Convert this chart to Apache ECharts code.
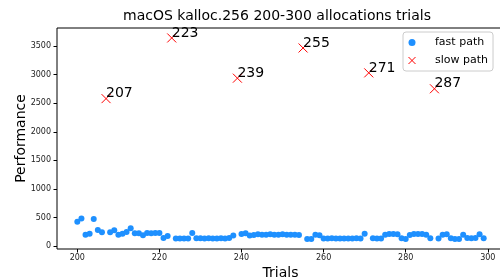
<!DOCTYPE html>
<html>
<head>
<meta charset="utf-8">
<script src="https://cdn.jsdelivr.net/npm/echarts@6/dist/echarts.min.js"></script>
<style>
  html, body { margin: 0; padding: 0; background: #fff; }
  #chart-container { width: 500px; height: 278px; }
</style>
</head>
<body>
<div id="chart-container"></div>
<script>
// trials 200..299, performance of the fast path (null where the slow path hit)
var firstTrial = 200;
var fastPerf = [
  429, 487, 203, 220, 476, 285, 244, null, 244, 278,
  203, 220, 250, 313, 226, 226, 191, 232, 226, 232,
  232, 145, 180, null, 134, 134, 134, 134, 232, 139,
  139, 134, 139, 134, 134, 139, 134, 145, 186, null,
  215, 226, 186, 197, 209, 203, 203, 209, 203, 203,
  209, 203, 203, 203, 197, null, 128, 128, 203, 191,
  134, 134, 139, 134, 134, 134, 134, 134, 139, 134,
  220, null, 139, 134, 134, 203, 215, 215, 209, 139,
  128, 197, 215, 215, 215, 203, 139, null, 134, 203,
  209, 139, 128, 128, 203, 145, 139, 145, 209, 139
];
var slowTrials = [207, 223, 239, 255, 271, 287];
var slowPerf = [2580, 3640, 2937, 3465, 3030, 2752];

var xTicks = [200, 220, 240, 260, 280, 300];
var yTicks = [0, 500, 1000, 1500, 2000, 2500, 3000, 3500];

var font = 'DejaVu Sans';
var fastData = [];
fastPerf.forEach(function (v, i) {
  if (v !== null) fastData.push([firstTrial + i, v]);
});
var slowData = slowTrials.map(function (t, i) { return [t, slowPerf[i]]; });

var xMark = 'path://M0,0L10,10M10,0L0,10';

var dom = document.getElementById('chart-container');
var myChart = echarts.init(dom, null, { renderer: 'canvas' });

var option = {
  animation: false,
  backgroundColor: '#fff',
  title: {
    text: 'macOS kalloc.256 200-300 allocations trials',
    left: 123,
    top: 9,
    padding: 0,
    textStyle: { fontFamily: font, fontSize: 14, fontWeight: 'normal', color: '#000' }
  },
  legend: {
    orient: 'vertical',
    left: 403,
    top: 32,
    padding: [5, 5, 5, 5],
    itemGap: 7,
    itemWidth: 28,
    itemHeight: 7,
    borderColor: '#ccc',
    borderWidth: 1,
    borderRadius: 3,
    backgroundColor: '#fff',
    textStyle: { fontFamily: font, fontSize: 11, color: '#000', padding: [0, 0, 0, 4] },
    data: [
      { name: 'fast path', icon: 'circle' },
      {
        name: 'slow path',
        icon: xMark,
        itemStyle: { color: 'transparent', borderColor: '#ff0000', borderWidth: 1 }
      }
    ]
  },
  grid: {
    left: 57,
    top: 28,
    width: 447,
    height: 221,
    show: true,
    borderColor: '#000',
    borderWidth: 1,
    containLabel: false,
    outerBoundsMode: 'none'
  },
  xAxis: {
    type: 'value',
    min: 195.05,
    max: 303.95,
    name: 'Trials',
    nameLocation: 'middle',
    nameGap: 17,
    nameMoveOverlap: false,
    nameTextStyle: { fontFamily: font, fontSize: 14, color: '#000' },
    axisLine: { show: false, onZero: false },
    splitLine: { show: false },
    axisTick: { show: true, length: 3.5, lineStyle: { color: '#000' }, customValues: xTicks },
    axisLabel: { margin: 5, fontFamily: font, fontSize: 8, color: '#222', customValues: xTicks }
  },
  yAxis: {
    type: 'value',
    min: -48,
    max: 3814,
    name: 'Performance',
    nameLocation: 'middle',
    nameGap: 29,
    nameMoveOverlap: false,
    nameTextStyle: { fontFamily: font, fontSize: 14, color: '#000' },
    axisLine: { show: false, onZero: false },
    splitLine: { show: false },
    axisTick: { show: true, length: 3.5, lineStyle: { color: '#000' }, customValues: yTicks },
    axisLabel: {
      margin: 6, fontFamily: font, fontSize: 8, color: '#222', customValues: yTicks,
      formatter: function (v) { return String(v); }
    }
  },
  series: [
    {
      name: 'fast path',
      type: 'scatter',
      symbol: 'circle',
      symbolSize: 6,
      itemStyle: { color: '#1e90ff', opacity: 1 },
      data: fastData
    },
    {
      name: 'slow path',
      type: 'scatter',
      symbol: xMark,
      symbolSize: 9,
      itemStyle: { color: 'transparent', borderColor: '#ff0000', borderWidth: 1, opacity: 1 },
      label: {
        show: true,
        position: 'inside',
        align: 'left',
        verticalAlign: 'bottom',
        offset: [0, 2],
        formatter: function (p) { return String(p.value[0]); },
        fontFamily: font,
        fontSize: 14,
        color: '#000'
      },
      data: slowData
    }
  ]
};

myChart.setOption(option);
window.addEventListener('resize', myChart.resize);
</script>
</body>
</html>
